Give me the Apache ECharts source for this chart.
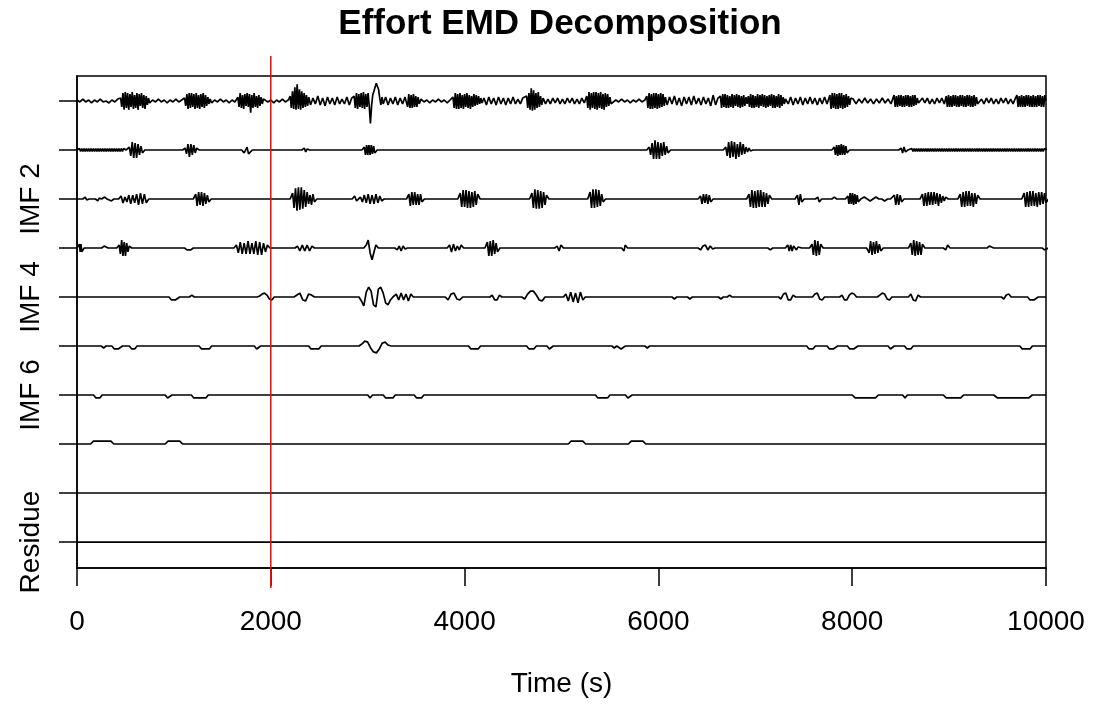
<!DOCTYPE html>
<html>
<head>
<meta charset="utf-8">
<script src="https://cdn.jsdelivr.net/npm/echarts@6/dist/echarts.min.js"></script>
<style>html,body{margin:0;padding:0;background:#fff;}#c{width:1095px;height:727px;}</style>
</head>
<body>
<div id="c"></div>
<script>
// ---- data (values in trace units; row spacing = 50 units) ----
const rowNames = ["Effort","IMF 1","IMF 2","IMF 3","IMF 4","IMF 5","IMF 6","IMF 7","IMF 8","Residue"];
const shownLabels = ["IMF 2","IMF 4","IMF 6","Residue"];
const xTicks = [0,2000,4000,6000,8000,10000];
const markTime = 2000;

// original signal: consecutive segments [start time, sample step, [values]]
const signalSegments = [
 [0,30,[1,-1,2,-1,1,-2,1,-1,2,-1,0,-2,1,-1,2]],
 [450,12,[3,-6,8,-9,9,-7,8,-9,7,-6,9,-8,6,-7,8,-9,7,-5,8,-7,6,-8,5,-4,3]],
 [750,30,[-2,1,-1,2,-1,1,-2,1,-1,2,-1,1]],
 [1110,12,[3,-5,7,-8,8,-7,8,-6,7,-8,8,-7,6,-8,7,-6,8,-7,6,-5,4,-3,2]],
 [1390,30,[-2,1,-1,2,-1,1,-2,1,-1]],
 [1660,12,[4,-6,8,-7,6,-8,7,-5,8,-6,7,-12,6,-7,8,-6,5,-7,6,-5,4,-3,2]],
 [1940,30,[2,-1,1,-2,1,-1,2,-1,1]],
 [2200,12,[5,-7,10,-8,14,-9,17,-8,12,-9,10,-7,8,-6,6,-5,4]],
 [2410,25,[-4,3,-3,5,-4,3,-5,4,-3,3,-4,4,-3,2,-3,4,-4,3]],
 [2860,12,[5,-7,8,-8,7,-6,8,-7,9,-8,7,-6,8,-5,-23,-5,6,10,12,18,17,12,3,-4,4]],
 [3160,25,[-3,4,-4,3,-3,4,-4,3,-3,4]],
 [3400,12,[4,-6,7,-7,6,-7,7,-6,5,-6,4,-3]],
 [3550,30,[2,-1,1,-2,1,-1,2,-1,1,-2,1]],
 [3880,12,[4,-7,8,-8,7,-8,8,-7,6,-8,7,-6,8,-7,6,-8,5,-6,7,-5,6,-4,5,-3,3,-2]],
 [4200,25,[3,-4,4,-3,3,-4,4,-3,3,-4,3,-3,4,-3,2,-3,3]],
 [4640,12,[5,-7,8,-9,13,-10,11,-9,8,-7,9,-6,5,-4]],
 [4810,25,[3,-3,2,-3,3,-2,3,-3,2,-3,3,-2,3,-3,2,-3,3,-2]],
 [5260,12,[5,-7,9,-9,8,-7,9,-8,9,-9,8,-7,9,-8,7,-9,8,-6,7,-5,4,-3]],
 [5530,30,[-2,1,-1,2,-1,1,-2,1,-1,2,-1,1]],
 [5880,12,[5,-7,8,-8,7,-8,8,-7,8,-8,7,-7,8,-6,7,-5,4]],
 [6090,25,[-4,4,-3,5,-4,3,-5,4,-3,4,-4,5,-3,3,-4,4,-3,3,-5,6,-4,3]],
 [6640,12,[5,-7,7,-6,7,-7,6,-7,5,-6,7,-7,6,-5,7,-6,6,-7,5,-6,6,-5,4,-3,5,-6,7,-7,6,-7,5,-6,7,-7,6,-5,7,-6,6,-7,5,-6,6,-5,7,-7,6,-7,5,-6,7,-7,6,-5,4,-3,2]],
 [7340,25,[-3,4,-4,3,-3,4,-4,3,-3,4,-3,3,-4,3,-3,4,-3]],
 [7770,12,[6,-8,8,-7,8,-8,7,-8,8,-7,8,-8,6,-7,7,-6,5,-4,3]],
 [8010,30,[2,-3,2,-2,3,-2,2,-3,2,-2,3,-2,2,-3]],
 [8420,12,[-4,6,-6,5,-6,6,-5,6,-6,5,-6,6,-5,6,-6,5,-6,6,-5,6,-4,3,-2]],
 [8700,25,[-3,3,-2,3,-3,2,-3,3,-2,3,-3]],
 [8970,12,[5,-6,6,-6,5,-6,6,-5,6,-6,5,-6,6,-5,6,-6,5,-6,6,-5,6,-6,5,-6,6,-5,4,-3]],
 [9310,25,[-3,2,-3,3,-2,3,-3,2,-3,3,-2,3,-3,2,-3,3]],
 [9700,12,[6,-6,5,-6,6,-6,5,-6,6,-5,6,-6,5,-6,6,-6,5,-6,6,-5,6,-6,5,-6,6]]
];

// IMF bursts: [start time, sample step, [values]] on a flat baseline
const imf1Bursts = [
 [0,12,[1.5,-1.5,1.5,-1.5,1.5,-1.5,1.5,-1.5,1.5,-1.5,
        1.5,-1.5,1.5,-1.5,1.5,-1.5,1.5,-1.5,1.5,-1.5,
        1.5,-1.5,1.5,-1.5,1.5,-1.5,1.5,-1.5,1.5,-1.5,
        1.5,-1.5,1.5,-1.5,1.5,-1.5,1.5,-1.5,1.5]],
 [515,15,[3,-6,8,-8,7,-8,6,-5,4,-3]],
 [1090,15,[2,-4,6,-7,6,-5,5,-3,2]],
 [1700,15,[-3,-4,3,-4,-2]],
 [2320,15,[2,-2,1]],
 [2940,12,[3,-5,5,-5,5,-5,5,-4,4,-3]],
 [5880,15,[3,-5,7,-9,10,-9,8,-9,7,-6,8,-5,4,-3]],
 [6670,15,[3,-6,8,-8,9,-7,8,-9,6,-7,8,-5,6,-4,3,-2,2,-1]],
 [7790,12,[3,-5,5,-6,5,-5,6,-5,5,-5,4,-3]],
 [8480,15,[2,-3,3,-2]],
 [8590,12,[1.5,-1.5,1.5,-1.5,1.5,-1.5,1.5,-1.5,1.5,-1.5,
           1.5,-1.5,1.5,-1.5,1.5,-1.5,1.5,-1.5,1.5,-1.5,
           1.5,-1.5,1.5,-1.5,1.5,-1.5,1.5,-1.5,1.5,-1.5,
           1.5,-1.5,1.5,-1.5,1.5,-1.5,1.5,-1.5,1.5,-1.5,
           1.5,-1.5,1.5,-1.5,1.5,-1.5,1.5,-1.5,1.5,-1.5,
           1.5,-1.5,1.5,-1.5,1.5,-1.5,1.5,-1.5,1.5,-1.5,
           1.5,-1.5,1.5,-1.5,1.5,-1.5,1.5,-1.5,1.5,-1.5,
           1.5,-1.5,1.5,-1.5,1.5,-1.5,1.5,-1.5,1.5,-1.5,
           1.5,-1.5,1.5,-1.5,1.5,-1.5,1.5,-1.5,1.5,-1.5,
           1.5,-1.5,1.5,-1.5,1.5,-1.5,1.5,-1.5,1.5,-1.5,
           1.5,-1.5,1.5,-1.5,1.5,-1.5,1.5,-1.5,1.5,-1.5,
           1.5,-1.5,1.5,-1.5,1.5]]
];
const imf2Bursts = [
 [60,15,[2,-1]],[190,15,[-2,1]],[260,15,[2]],[330,15,[-2]],
 [430,20,[3,-4,2,-3,4,-5,4,-4,5,-6,6,-5,5,-4]],
 [1200,15,[5,-7,7,-6,7,-7,6,-5,4,-3]],
 [2200,15,[6,-9,11,-12,12,-11,12,-10,9,-8,7,-5,4,-6,5,-3]],
 [2840,20,[3,-2,0,2,-3,4,-4,5,-5,4,-5,5,-4,3,-2]],
 [3400,15,[5,-7,7,-6,7,-6,5,-6,5,-3]],
 [3930,15,[6,-8,9,-8,9,-9,8,-9,7,-8,8,-6,5]],
 [4670,15,[6,-9,10,-10,9,-10,8,-9,7,-6,4]],
 [5270,15,[7,-9,10,-9,10,-8,9,-7,5,-3]],
 [6410,15,[3,-5,5,-4,5,-5,4,-3]],
 [6910,15,[5,-8,9,-9,8,-9,9,-8,9,-8,7,-8,6,-5,4]],
 [7410,15,[4,-6,5,-3]],
 [7620,15,[2,-3]],
 [7790,15,[2]],
 [7930,12,[3,-5,6,-5,6,-6,5,-5,4,-3]],
 [8095,30,[2,0,-2,0,2,0,0,-2,0]],
 [8410,15,[4,-6,5,-6,4,-3]],
 [8700,15,[5,-7,6,-7,7,-6,7,-6,7,-5,6,-7,5,-4,3,-2,2]],
 [9090,15,[5,-8,7,-8,8,-7,8,-7,6,-8,6,-5,4]],
 [9750,15,[6,-8,7,-8,8,-7,8,-7,6,-8,7,-6,7,-5,6,-4]]
];
const imf3Bursts = [
 [0,8,[4,-4,4,-4]],
 [255,15,[2,2]],
 [410,13,[3,-6,8,-8,6,-8,5,-4,2]],
 [1110,20,[-2,-4,-2]],
 [1620,20,[3,-5,6,-6,5,-6,7,-6,5,-6,7,-7,6,-7,5,-4,3]],
 [2250,25,[2,-3,3,-3,3,-3,2]],
 [2960,20,[3,8,-5,-12,-4,3]],
 [3280,20,[-2,2,-3,2,-1]],
 [3820,20,[3,-4,4,-3,2,-2,3]],
 [4210,15,[6,-8,7,-8,8,-6,5,-4]],
 [4930,20,[2,-3,3]],
 [5620,12,[-3,3]],
 [6410,25,[-2,2,3,-2,2,-1]],
 [7130,15,[-2]],
 [7310,15,[3,-3,3,-3,2,3,-2,1,2]],
 [7560,15,[4,-7,8,-8,7,-7,4]],
 [8150,15,[-5,7,-7,6,-6,7,-5,4,-3]],
 [8580,15,[5,-7,8,-8,7,-7,6,-7,4]],
 [8940,20,[-2,3]],
 [9390,20,[2,2]],
 [9960,15,[-2,-2]]
];
const imf4Bursts = [
 [950,20,[-3,-3,-3,-3]],
 [1160,10,[2]],
 [1860,25,[1,3,4,2,-2,-3]],
 [2240,30,[2,4,-3,-4,3,2]],
 [2910,25,[-4,-9,5,10,6,-8,-10,8,10,4,-6,-8,-3]],
 [3270,25,[3,-3,4,-3,3,-4,3]],
 [3800,30,[-3,3,4,-2,-3]],
 [4260,25,[2,-3,-3,2]],
 [4590,30,[-2,3,6,6,2,-3,-4]],
 [5020,25,[3,-4,5,-5,4,-6,5,-3]],
 [6140,10,[-2]],[6300,10,[-2]],[6620,10,[-2]],[6710,10,[2]],
 [7240,25,[-2,3,4,-3,-3,2]],
 [7590,25,[3,4,-2,-3]],
 [7870,25,[2,-3,-3,2,4,3]],
 [8260,25,[2,4,3,-2,-3]],
 [8580,25,[3,-3,-4,2]],
 [9540,25,[-2,2,3]],
 [9810,20,[-3,-3,-3,-3]]
];
const imf5Bursts = [
 [250,10,[-2]],
 [360,20,[-3,-3,-3,-3]],
 [540,15,[-3,-3,-3]],
 [1260,20,[-3,-3,-3,-3,-3]],
 [1830,15,[-3,-3]],
 [2390,20,[-3,-3,-3,-3,-3]],
 [2910,30,[2,5,4,-2,-6,-7,-3,3,4,1]],
 [4040,25,[-3,-3,-3,-3]],
 [4640,25,[-3,-3,-3]],
 [4850,15,[-3,-3]],
 [5520,10,[-2]],
 [5590,20,[-3,-3]],
 [5860,10,[-2]],
 [7530,20,[-3,-3,-3]],
 [7740,20,[-3,-3,-3,-3]],
 [7950,20,[-3,-3,-3,-3]],
 [8370,15,[-3,-3]],
 [8540,20,[-3,-3,-3]],
 [9730,20,[-3,-3,-3,-3,-3]]
];
const imf6Bursts = [
 [170,20,[-3,-3,-3]],
 [910,20,[-3,-3]],
 [1180,25,[-3,-3,-3,-3,-3,-3]],
 [3000,10,[-3]],
 [3160,25,[-3,-3,-3,-3]],
 [3480,25,[-3,-3,-3]],
 [5350,25,[-3,-3,-3,-3,-3]],
 [5660,20,[-3,-3]],
 [8000,30,[-3,-3,-3,-3,-3,-3,-3,-3]],
 [8520,10,[-3]],
 [8940,30,[-3,-3,-3,-3,-3,-3]],
 [9460,40,[-3,-3,-3,-3,-3,-3,-3,-3,-3]]
];
const imf7Bursts = [
 [140,30,[3,3,3,3,3,3,3]],
 [910,30,[3,3,3,3,3]],
 [5070,30,[3,3,3,3,3]],
 [5690,30,[3,3,3,3,3]]
];
const imf8Bursts = [];
const residueBursts = [];

// ---- build ----
const SPACING = 50;
const TMAX = 10000;
const EDGE = 25; // time between the baseline and the first / last sample of a burst
function offsetOf(row){ return (rowNames.length - 1 - row) * SPACING; }
function fromSegments(segs, off){
  const pts = [];
  segs.forEach(function(s){
    s[2].forEach(function(v, k){ pts.push([s[0] + s[1]*k, off + v]); });
  });
  pts.push([TMAX, off]);
  return pts;
}
function fromBursts(bursts, off){
  const pts = [[0, off]];
  bursts.forEach(function(b){
    const t0 = b[0], dt = b[1], vals = b[2];
    const g = Math.max(dt, EDGE);
    pts.push([t0, off]);
    vals.forEach(function(v, k){ pts.push([t0 + g + dt*k, off + v]); });
    pts.push([t0 + 2*g + dt*(vals.length-1), off]);
  });
  if (pts[pts.length-1][0] < TMAX) pts.push([TMAX, off]);
  return pts;
}
const allBursts = [null, imf1Bursts, imf2Bursts, imf3Bursts, imf4Bursts, imf5Bursts, imf6Bursts, imf7Bursts, imf8Bursts, residueBursts];
const series = [];
rowNames.forEach(function(name, r){
  const off = offsetOf(r);
  const data = (r === 0) ? fromSegments(signalSegments, off) : fromBursts(allBursts[r], off);
  series.push({
    name: name, type: 'line', xAxisIndex: 0, yAxisIndex: 0,
    data: data, showSymbol: false, symbol: 'none', clip: true,
    lineStyle: { color: '#000', width: 1.7 }, animation: false, z: 2
  });
});
series.push({
  type: 'line', xAxisIndex: 1, yAxisIndex: 1, showSymbol: false, symbol: 'none',
  data: [[markTime, 0], [markTime, 1]],
  lineStyle: { color: '#ff0000', width: 1.5 }, animation: false, z: 5
});

const labelMap = {};
rowNames.forEach(function(n, r){ if (shownLabels.indexOf(n) >= 0) labelMap[offsetOf(r)] = n; });
const tickVals = rowNames.map(function(n, r){ return offsetOf(r); });
const labelVals = Object.keys(labelMap).map(Number);

const FONT = '"Liberation Sans", Arial, sans-serif';
const chart = echarts.init(document.getElementById('c'), null, { renderer: 'canvas' });
chart.setOption({
  animation: false,
  backgroundColor: '#fff',
  title: {
    text: 'Effort EMD Decomposition', left: 555, top: 2, textAlign: 'center',
    textStyle: { fontFamily: FONT, fontSize: 35, fontWeight: 'bold', color: '#000' }
  },
  grid: [
    { left: 77, right: 49, top: 76, bottom: 159, show: true, borderColor: '#000', borderWidth: 1.5, backgroundColor: 'transparent' },
    { left: 77, right: 49, top: 56, bottom: 139, show: false }
  ],
  xAxis: [
    {
      type: 'value', gridIndex: 0, min: 0, max: 10000, interval: 2000,
      name: 'Time (s)', nameLocation: 'middle', nameGap: 102,
      nameTextStyle: { fontFamily: FONT, fontSize: 28, color: '#000' },
      axisLine: { show: true, onZero: false, lineStyle: { color: '#000', width: 1.5 } },
      axisTick: { show: true, length: 18, lineStyle: { color: '#000', width: 1.5 } },
      axisLabel: { show: true, margin: 40, fontFamily: FONT, fontSize: 28, color: '#000',
        formatter: function(v){ return String(v); } },
      splitLine: { show: false }
    },
    { type: 'value', gridIndex: 1, min: 0, max: 10000, show: false }
  ],
  yAxis: [
    {
      type: 'value', gridIndex: 0, min: -26.5, max: 475.5,
      axisLine: { show: true, onZero: false, lineStyle: { color: '#000', width: 1.5 } },
      axisTick: { show: true, length: 18, customValues: tickVals, lineStyle: { color: '#000', width: 1.5 } },
      axisLabel: { show: true, customValues: labelVals, rotate: 90, margin: 32,
        fontFamily: FONT, fontSize: 28, color: '#000',
        formatter: function(v){ return labelMap[v] || ''; } },
      splitLine: { show: false }
    },
    { type: 'value', gridIndex: 1, min: 0, max: 1, show: false }
  ],
  series: series
});
</script>
</body>
</html>
